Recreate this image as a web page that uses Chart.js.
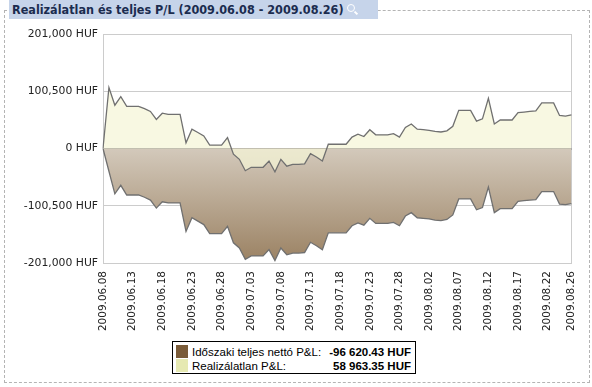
<!DOCTYPE html>
<html>
<head>
<meta charset="utf-8">
<script src="https://cdn.jsdelivr.net/npm/chart.js@4.4.0/dist/chart.umd.min.js"></script>
<style>
    body { margin: 0; background: #fff; }
    #wrap { position: relative; width: 592px; height: 387px; overflow: hidden; }
    #frame { position: absolute; left: 4px; top: 10px; width: 584px; height: 371px; border: 1px dashed #b4b4b4; }
    #title { position: absolute; left: 9px; top: 0; width: 369px; height: 19px; background: #c6d4ea; white-space: nowrap; overflow: hidden;
             font: bold 12.5px "DejaVu Sans Condensed", "DejaVu Sans", sans-serif; color: #1b2c4f; line-height: 19px; padding-left: 3px; box-sizing: border-box; }
    #lens { position: absolute; left: 358px; top: 4px; width: 6px; height: 6px; border: 1.5px solid #fff; border-radius: 50%; }
    #lens:after { content: ''; position: absolute; left: 6px; top: 7px; width: 4px; height: 2px; background: #fff; transform: rotate(45deg); }
    #chartBox { position: absolute; left: 0; top: 0; width: 592px; height: 340px; }
    #legend { position: absolute; left: 172px; top: 341px; width: 244px; height: 33px; border: 1px solid #000; background: #fff;
              font: 11.5px "Liberation Sans", Arial, sans-serif; color: #000; box-sizing: border-box; }
    .row { position: absolute; left: 3px; right: 4px; height: 14px; line-height: 14px; }
    .sw { position: absolute; left: 0; top: 0; width: 12px; height: 13px; }
    .lbl { position: absolute; left: 16px; top: 0; }
    .val { position: absolute; right: 0; top: 0; font-weight: bold; }
</style>
</head>
<body>
<div id="wrap">
    <div id="frame"></div>
    <div id="title"><span id="titleText">Realizálatlan és teljes P/L (2009.06.08 - 2009.08.26)</span><span id="lens"></span></div>
    <div id="chartBox"><canvas id="plChart" width="592" height="340"></canvas></div>
    <div id="legend">
        <div class="row" style="top:3px"><span class="sw" style="background:#7a5b38"></span><span class="lbl">Időszaki teljes nettó P&amp;L:</span><span class="val" id="v0"></span></div>
        <div class="row" style="top:17px"><span class="sw" style="background:#e6e9b2"></span><span class="lbl">Realizálatlan P&amp;L:</span><span class="val" id="v1"></span></div>
    </div>
</div>
<script>
// ===== Data =====
const days = [
    '2009.06.08', '2009.06.09', '2009.06.10', '2009.06.11', '2009.06.12', '2009.06.13', '2009.06.14', '2009.06.15', '2009.06.16', '2009.06.17',
    '2009.06.18', '2009.06.19', '2009.06.20', '2009.06.21', '2009.06.22', '2009.06.23', '2009.06.24', '2009.06.25', '2009.06.26', '2009.06.27',
    '2009.06.28', '2009.06.29', '2009.06.30', '2009.07.01', '2009.07.02', '2009.07.03', '2009.07.04', '2009.07.05', '2009.07.06', '2009.07.07',
    '2009.07.08', '2009.07.09', '2009.07.10', '2009.07.11', '2009.07.12', '2009.07.13', '2009.07.14', '2009.07.15', '2009.07.16', '2009.07.17',
    '2009.07.18', '2009.07.19', '2009.07.20', '2009.07.21', '2009.07.22', '2009.07.23', '2009.07.24', '2009.07.25', '2009.07.26', '2009.07.27',
    '2009.07.28', '2009.07.29', '2009.07.30', '2009.07.31', '2009.08.01', '2009.08.02', '2009.08.03', '2009.08.04', '2009.08.05', '2009.08.06',
    '2009.08.07', '2009.08.08', '2009.08.09', '2009.08.10', '2009.08.11', '2009.08.12', '2009.08.13', '2009.08.14', '2009.08.15', '2009.08.16',
    '2009.08.17', '2009.08.18', '2009.08.19', '2009.08.20', '2009.08.21', '2009.08.22', '2009.08.23', '2009.08.24', '2009.08.25', '2009.08.26'
];

// Realizálatlan P&L (HUF)
const unrealized = [
    0, 107000, 76000, 91000, 74000, 74000, 74000, 70000, 65000, 51000,
    62000, 60000, 60000, 60000, 10000, 34000, 28000, 22000, 6000, 6000,
    6000, 19000, -10000, -19000, -39000, -33000, -33000, -33000, -22000, -41000,
    -19000, -31000, -28000, -28000, -27000, -9000, -15000, -22000, 7500, 7500,
    7500, 7500, 20000, 25000, 21000, 33000, 24000, 24000, 24000, 26000,
    20000, 37000, 43000, 34000, 33000, 32000, 30000, 29000, 31000, 39000,
    67000, 67000, 67000, 48000, 52000, 88000, 43000, 50000, 50000, 50000,
    63000, 64000, 65000, 66000, 80000, 80000, 80000, 58000, 57000, 58963.35
];

// Időszaki teljes nettó P&L (HUF)
const totalPL = [
    0, -40000, -79600, -64600, -81600, -81600, -81600, -85600, -90600, -104600,
    -93600, -95600, -95600, -95600, -145600, -121600, -127600, -133600, -149600, -149600,
    -149600, -136600, -165600, -174600, -194600, -188600, -188600, -188600, -177600, -196600,
    -174600, -186600, -183600, -183600, -182600, -164600, -170600, -177600, -148100, -148100,
    -148100, -148100, -135600, -130600, -134600, -122600, -131600, -131600, -131600, -129600,
    -135600, -118600, -112600, -121600, -122600, -123600, -125600, -126600, -124600, -116600,
    -88600, -88600, -88600, -107600, -103600, -67600, -112600, -105600, -105600, -105600,
    -92600, -91600, -90600, -89600, -75600, -75600, -75600, -97600, -98600, -96620.43
];

const yTicks = [-201000, -100500, 0, 100500, 201000];

// ===== Colors =====
const colors = {
    line: '#707070',
    zero: '#767676',
    grid: '#cccccc',
    unrealizedFill: 'rgba(245,245,215,0.72)',
    brownTop: '#d3c9bb',
    brownBottom: '#9a8162',
    text: '#222222'
};

// ===== Helpers =====
function fmtAxis(v) {
    return v.toLocaleString('en-US') + ' HUF';
}

function fmtLegend(v) {
    const sign = v < 0 ? '-' : '';
    const parts = Math.abs(v).toFixed(2).split('.');
    return sign + parts[0].replace(/\B(?=(\d{3})+(?!\d))/g, ' ') + '.' + parts[1] + ' HUF';
}

function brownGradient(context) {
    const chart = context.chart;
    if (!chart.chartArea) return colors.brownTop;
    const y = chart.scales.y;
    const g = chart.ctx.createLinearGradient(0, y.getPixelForValue(0), 0, y.getPixelForValue(yTicks[0]));
    g.addColorStop(0, colors.brownTop);
    g.addColorStop(1, colors.brownBottom);
    return g;
}

// fit the title text into the bar like the original header
function fitTitle() {
    const t = document.getElementById('titleText');
    let size = 12.5;
    while (t.offsetWidth > 352 && size > 9) {
        size -= 0.25;
        t.style.fontSize = size + 'px';
    }
    document.getElementById('lens').style.left = (t.offsetWidth + 6) + 'px';
}
fitTitle();

document.getElementById('v0').textContent = fmtLegend(totalPL[totalPL.length - 1]);
document.getElementById('v1').textContent = fmtLegend(unrealized[unrealized.length - 1]);

// ===== Chart =====
new Chart(document.getElementById('plChart'), {
    type: 'line',
    data: {
        labels: days,
        datasets: [
            {
                label: 'Realizálatlan P&L',
                data: unrealized,
                borderColor: colors.line,
                backgroundColor: colors.unrealizedFill,
                borderWidth: 1.3,
                tension: 0,
                fill: 'origin',
                pointRadius: 0,
                order: 0
            },
            {
                label: 'Időszaki teljes nettó P&L',
                data: totalPL,
                borderColor: colors.line,
                backgroundColor: brownGradient,
                borderWidth: 1.3,
                tension: 0,
                fill: 'origin',
                pointRadius: 0,
                order: 1
            }
        ]
    },
    options: {
        responsive: false,
        animation: false,
        layout: { padding: { top: 34, right: 19, left: 0, bottom: 0 } },
        plugins: {
            legend: { display: false },
            tooltip: { enabled: false }
        },
        scales: {
            x: {
                offset: false,
                grid: {
                    drawTicks: false,
                    color: (c) => c.index === days.length - 1 ? colors.grid : 'rgba(0,0,0,0)'
                },
                border: { color: colors.grid },
                afterFit: (s) => { s.height = 77; },
                ticks: {
                    autoSkip: false,
                    maxRotation: 90,
                    minRotation: 90,
                    padding: 8,
                    color: colors.text,
                    font: { family: 'DejaVu Sans', size: 10.5 },
                    callback: (v, i) => (i % 5 === 0 || i === days.length - 1) ? days[i] : ''
                }
            },
            y: {
                min: yTicks[0],
                max: yTicks[yTicks.length - 1],
                afterBuildTicks: (s) => { s.ticks = yTicks.map(v => ({ value: v })); },
                afterFit: (s) => { s.width = 103; },
                grid: {
                    drawTicks: false,
                    color: (c) => c.tick && c.tick.value === 0 ? colors.zero : colors.grid,
                    lineWidth: (c) => c.tick && c.tick.value === 0 ? 2 : 1
                },
                border: { color: colors.grid },
                ticks: {
                    padding: 5,
                    color: colors.text,
                    font: { family: 'DejaVu Sans', size: 10.8 },
                    callback: (v) => fmtAxis(v)
                }
            }
        }
    }
});
</script>
</body>
</html>
